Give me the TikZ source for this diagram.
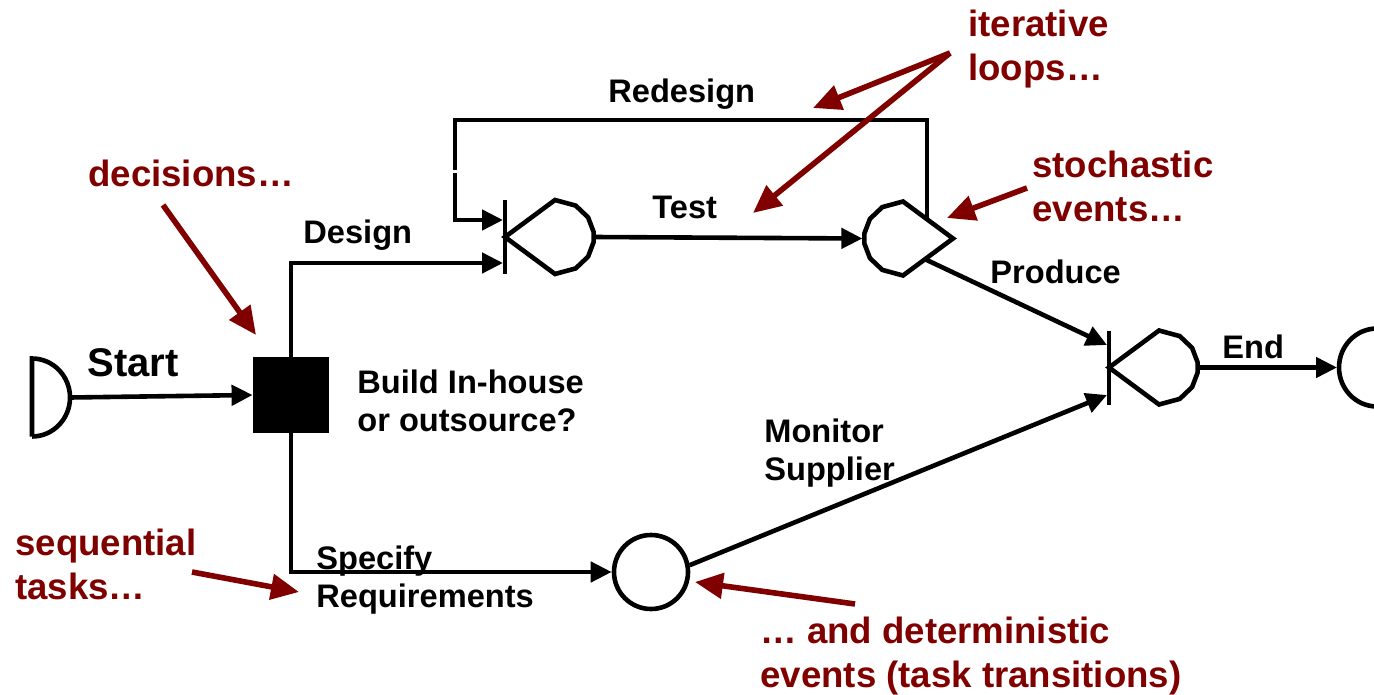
\documentclass[tikz,border=0pt]{standalone}
\usepackage{fontspec}
\setmainfont{Liberation Sans}
\usetikzlibrary{arrows.meta}
\definecolor{notered}{RGB}{128,0,0}

\tikzset{
  flow/.style={line width=2.3pt, -{Triangle[length=10.5pt,width=10pt]}},
  plain/.style={line width=2.3pt},
  outline/.style={line width=2.3pt, line join=miter},
  note/.style={line width=2.8pt, draw=notered, -{Triangle[length=14pt,width=12.5pt]}},
  lbl/.style={inner sep=0pt, anchor=base west, font=\fontsize{16.3}{19}\selectfont\bfseries},
  bigl/.style={inner sep=0pt, anchor=base west, font=\fontsize{20}{24}\selectfont\bfseries},
  notetxt/.style={inner sep=0pt, anchor=base west, text=notered, font=\fontsize{18.3}{22}\selectfont\bfseries},
  % synchronisation bar with a rounded, faceted task head
  pics/andnode/.style={code={
    \draw[outline] (0,-37) -- (0,37);
    \draw[outline] (50,37) -- (70.7,31.4) -- (83.1,19.6) -- (88.6,5.1) -- (88.6,-5.1)
      -- (83.1,-19.6) -- (70.7,-31.4) -- (50,-37) -- (0,0) -- cycle;
    \coordinate (-out) at (88.6,0);
  }},
  % stochastic event: faceted round back with a pointed front
  pics/stochnode/.style={code={
    \draw[outline] (0,-37) -- (50,0) -- (0,37) -- (-20.7,31.4) -- (-33.1,19.6) -- (-38.6,5.1)
      -- (-38.6,-5.1) -- (-33.1,-19.6) -- (-20.7,-31.4) -- cycle;
    \coordinate (-in) at (-40.6,0);
    \coordinate (-loop) at (24,-19.2);
    \coordinate (-prod) at (22,20.7);
  }},
}

\begin{document}
\begin{tikzpicture}[x=0.5pt, y=-0.5pt]
  \useasboundingbox (0,0) rectangle (1374,695);

  % start terminal
  \draw[outline] (32,436.5) -- (32,358.5) arc[start angle=-90, end angle=90, x radius=38, y radius=39];
  \coordinate (start-out) at (70,397.5);

  % decision box
  \node[fill=black, minimum size=38pt, inner sep=0pt] (dec) at (291,395) {};

  % tasks and events
  \pic (a1) at (505,237) {andnode};
  \coordinate (a1-in1) at (503,220);
  \coordinate (a1-in2) at (503,263);

  \pic (st) at (903,238.5) {stochnode};

  \pic (a3) at (1109,367.5) {andnode};
  \coordinate (a3-inA) at (1107,345);
  \coordinate (a3-inB) at (1107,395);

  \node[circle, draw, line width=2.3pt, minimum size=37pt, inner sep=0pt] (circ) at (651,572) {};

  % end terminal
  \draw[outline] (1377,328.5) arc[start angle=-90, end angle=-270, x radius=38, y radius=39] -- cycle;
  \coordinate (end-in) at (1337,367.5);

  % redesign loop
  \coordinate (looptop) at (455,120);
  \coordinate (gapA) at (455,170);
  \coordinate (gapB) at (455,173);
  \draw[plain] (st-loop) |- (looptop) -- (gapA);
  \draw[flow] (gapB) |- (a1-in1);

  % connectors
  \draw[flow] (start-out) -- (dec.west);
  \draw[flow] (dec.north) |- (a1-in2);
  \draw[flow] (dec.south) |- (circ.west);
  \draw[flow] (a1-out) -- (st-in);
  \draw[flow] (st-prod) -- (a3-inA);
  \draw[flow] (circ.10) -- (a3-inB);
  \draw[flow] (a3-out) -- (end-in);

  % labels
  \node[lbl] (tRedesign) at (608,103) {Redesign};
  \node[lbl] (tTest) at (652,219) {Test};
  \node[lbl] (tDesign) at (303,243) {Design};
  \node[lbl] (tProduce) at (990,283) {Produce};
  \node[bigl] (tStart) at (87,376) {Start};
  \node[lbl] (tEnd) at (1222,358) {End};
  \node[lbl] (tBuild) at (357,393) {\begin{tabular}[t]{@{}l@{}}Build In-house\\or outsource?\end{tabular}};
  \node[lbl] (tMonitor) at (764,442) {\begin{tabular}[t]{@{}l@{}}Monitor\\Supplier\end{tabular}};
  \node[lbl] (tSpecify) at (316,569) {\begin{tabular}[t]{@{}l@{}}Specify\\Requirements\end{tabular}};

  % annotations
  \node[notetxt] (nIter) at (968,37) {\begin{tabular}[t]{@{}l@{}}iterative\\loops…\end{tabular}};
  \node[notetxt] (nDec) at (88,187) {decisions…};
  \node[notetxt] (nStoch) at (1032,177) {\begin{tabular}[t]{@{}l@{}}stochastic\\events…\end{tabular}};
  \node[notetxt] (nSeq) at (15,555) {\begin{tabular}[t]{@{}l@{}}sequential\\tasks…\end{tabular}};
  \node[notetxt] (nDet) at (760,643) {\begin{tabular}[t]{@{}l@{}}… and deterministic\\events (task transitions)\end{tabular}};

  \coordinate (iterTail) at (950,53);
  \coordinate (iterTipA) at (813,108);
  \coordinate (iterTipB) at (753,213);
  \coordinate (stochTail) at (1027,188);
  \coordinate (stochTip) at (947,218);
  \coordinate (decTail) at (163,205);
  \coordinate (decTip) at (256,335);
  \coordinate (seqTail) at (192,572);
  \coordinate (seqTip) at (299,592);
  \coordinate (detTail) at (855,604);
  \coordinate (detTip) at (695,582);

  \draw[note] (iterTail) -- (iterTipA);
  \draw[note] (iterTail) -- (iterTipB);
  \draw[note] (stochTail) -- (stochTip);
  \draw[note] (decTail) -- (decTip);
  \draw[note] (seqTail) -- (seqTip);
  \draw[note] (detTail) -- (detTip);
\end{tikzpicture}
\end{document}
